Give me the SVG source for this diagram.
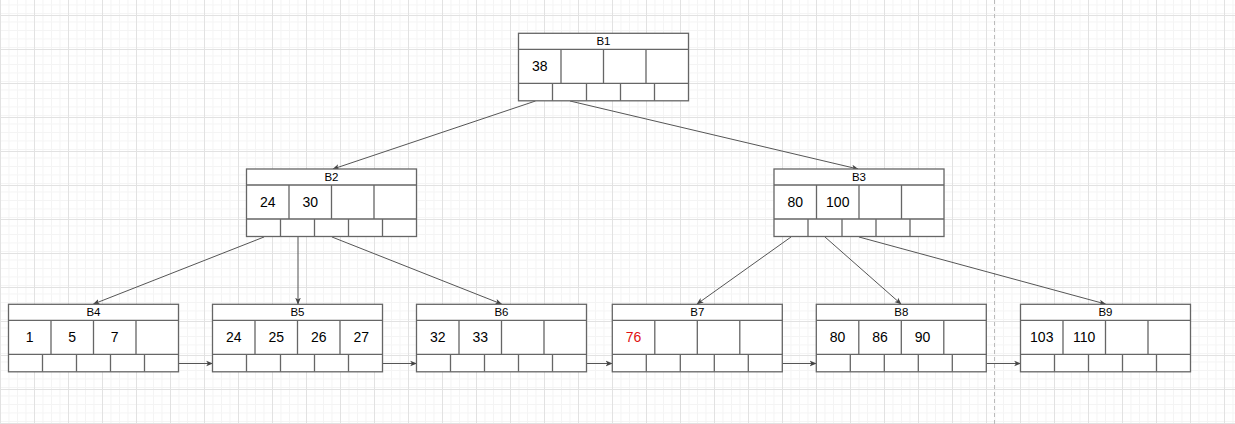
<svg xmlns="http://www.w3.org/2000/svg" xmlns:xlink="http://www.w3.org/1999/xlink" width="1235" height="424" viewBox="0 0 1235 424">
<style>
.hdr{font-family:"Liberation Sans",Arial,sans-serif;font-size:11.5px;fill:#000;text-anchor:middle}
.key{font-family:"Liberation Sans",Arial,sans-serif;font-size:14px;fill:#000;text-anchor:middle}
.red{fill:#e01010}
.edge{stroke:#555;stroke-width:1;fill:none}
</style>
<defs>
<pattern id="minor" width="8.5" height="8.5" patternUnits="userSpaceOnUse" x="0" y="15">
<path d="M0 0.5H8.5M0.5 0V8.5" stroke="#f4f4f4" stroke-width="1" fill="none"/>
</pattern>
<pattern id="major" width="34" height="34" patternUnits="userSpaceOnUse" x="0" y="15">
<rect width="34" height="34" fill="url(#minor)"/>
<path d="M0 0.5H34M0.5 0V34" stroke="#e2e2e2" stroke-width="1" fill="none"/>
</pattern>
<marker id="arr" viewBox="0 0 10 10" refX="9" refY="5" markerWidth="7" markerHeight="7" orient="auto" markerUnits="userSpaceOnUse">
<path d="M0 1L10 5L0 9L2.5 5Z" fill="#444"/>
</marker>
<symbol id="frame" width="172" height="70" viewBox="-1 -1 172 70" overflow="visible">
<rect x="0" y="0" width="170" height="67.5" fill="#fff" stroke="#666" stroke-width="1.3"/>
<path d="M0 16H170M0 50H170M42.5 16V50M85 16V50M127.5 16V50M34 50V67.5M68 50V67.5M102 50V67.5M136 50V67.5" stroke="#666" stroke-width="1.3" fill="none"/>
</symbol>
</defs>
<rect width="1235" height="424" fill="#fff"/>
<rect width="1235" height="424" fill="url(#major)"/>
<line x1="994.5" y1="0" x2="994.5" y2="424" stroke="#bbb" stroke-width="1" stroke-dasharray="4 3"/>

<g id="connectors">
<line class="edge" x1="535.5" y1="101" x2="333" y2="169" marker-end="url(#arr)"/>
<line class="edge" x1="570" y1="101" x2="858" y2="169" marker-end="url(#arr)"/>
<line class="edge" x1="264" y1="237" x2="93.5" y2="304" marker-end="url(#arr)"/>
<line class="edge" x1="298" y1="237" x2="298" y2="304" marker-end="url(#arr)"/>
<line class="edge" x1="332" y1="237" x2="501.5" y2="304" marker-end="url(#arr)"/>
<line class="edge" x1="791" y1="237" x2="697" y2="304" marker-end="url(#arr)"/>
<line class="edge" x1="825" y1="237" x2="901" y2="304" marker-end="url(#arr)"/>
<line class="edge" x1="859" y1="237" x2="1105.5" y2="304" marker-end="url(#arr)"/>
<line class="edge" x1="179" y1="363.5" x2="212.5" y2="363.5" marker-end="url(#arr)"/>
<line class="edge" x1="383" y1="363.5" x2="416.5" y2="363.5" marker-end="url(#arr)"/>
<line class="edge" x1="587" y1="363.5" x2="612" y2="363.5" marker-end="url(#arr)"/>
<line class="edge" x1="782" y1="363.5" x2="816" y2="363.5" marker-end="url(#arr)"/>
<line class="edge" x1="986" y1="363.5" x2="1020.5" y2="363.5" marker-end="url(#arr)"/>
</g>

<g id="B1" transform="translate(518.5,33.3)">
<use xlink:href="#frame" x="-1" y="-1"/>
<text class="hdr" x="85" y="12">B1</text>
<text class="key" x="21.25" y="38">38</text>
</g>
<g id="B2" transform="translate(246.5,169)">
<use xlink:href="#frame" x="-1" y="-1"/>
<text class="hdr" x="85" y="12">B2</text>
<text class="key" x="21.25" y="38">24</text>
<text class="key" x="63.75" y="38">30</text>
</g>
<g id="B3" transform="translate(774,169)">
<use xlink:href="#frame" x="-1" y="-1"/>
<text class="hdr" x="85" y="12">B3</text>
<text class="key" x="21.25" y="38">80</text>
<text class="key" x="63.75" y="38">100</text>
</g>
<g id="B4" transform="translate(8.5,304.3)">
<use xlink:href="#frame" x="-1" y="-1"/>
<text class="hdr" x="85" y="12">B4</text>
<text class="key" x="21.25" y="38">1</text>
<text class="key" x="63.75" y="38">5</text>
<text class="key" x="106.25" y="38">7</text>
</g>
<g id="B5" transform="translate(212.5,304.3)">
<use xlink:href="#frame" x="-1" y="-1"/>
<text class="hdr" x="85" y="12">B5</text>
<text class="key" x="21.25" y="38">24</text>
<text class="key" x="63.75" y="38">25</text>
<text class="key" x="106.25" y="38">26</text>
<text class="key" x="148.75" y="38">27</text>
</g>
<g id="B6" transform="translate(416.5,304.3)">
<use xlink:href="#frame" x="-1" y="-1"/>
<text class="hdr" x="85" y="12">B6</text>
<text class="key" x="21.25" y="38">32</text>
<text class="key" x="63.75" y="38">33</text>
</g>
<g id="B7" transform="translate(612.3,304.3)">
<use xlink:href="#frame" x="-1" y="-1"/>
<text class="hdr" x="85" y="12">B7</text>
<text class="key red" x="21.25" y="38">76</text>
</g>
<g id="B8" transform="translate(816.3,304.3)">
<use xlink:href="#frame" x="-1" y="-1"/>
<text class="hdr" x="85" y="12">B8</text>
<text class="key" x="21.25" y="38">80</text>
<text class="key" x="63.75" y="38">86</text>
<text class="key" x="106.25" y="38">90</text>
</g>
<g id="B9" transform="translate(1020.5,304.3)">
<use xlink:href="#frame" x="-1" y="-1"/>
<text class="hdr" x="85" y="12">B9</text>
<text class="key" x="21.25" y="38">103</text>
<text class="key" x="63.75" y="38">110</text>
</g>
</svg>
